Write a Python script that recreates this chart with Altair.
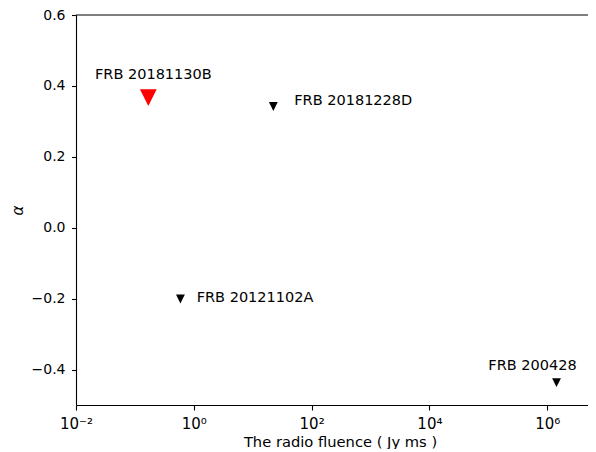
import altair as alt
import pandas as pd

# ---- data ----
names = ["FRB 20181130B", "FRB 20181228D", "FRB 20121102A", "FRB 200428"]
fluence = [0.169, 22.4, 0.593, 1.44e6]          # Jy ms
alpha = [0.367, 0.342, -0.201, -0.437]
highlight = [True, False, False, False]
label_x = [0.021, 50.8, 1.12, 1.0e5]            # annotation anchor (data coords)
label_y = [0.419, 0.347, -0.209, -0.402]

x_ticks = [1e-2, 1e0, 1e2, 1e4, 1e6]
x_tick_labels = ["10⁻²", "10⁰", "10²", "10⁴", "10⁶"]
y_ticks = [-0.4, -0.2, 0.0, 0.2, 0.4, 0.6]
y_tick_labels = ["−0.4", "−0.2", "0.0", "0.2", "0.4", "0.6"]

df = pd.DataFrame({
    "name": names, "fluence": fluence, "alpha": alpha,
    "highlight": highlight, "label_x": label_x, "label_y": label_y,
})

W, H = 512, 390
FONT = "DejaVu Sans"

def x_expr():
    parts = []
    for v, l in zip(x_ticks, x_tick_labels):
        parts.append(f"(datum.value > {v*0.999} && datum.value < {v*1.001}) ? '{l}' : ")
    return "".join(parts) + "''"

def y_expr():
    parts = []
    for v, l in zip(y_ticks, y_tick_labels):
        parts.append(f"abs(datum.value - ({v})) < 1e-6 ? '{l}' : ")
    return "".join(parts) + "''"

xscale = alt.Scale(type="log", domain=[0.01, 4.93e6], nice=False)
yscale = alt.Scale(domain=[-0.5, 0.6], nice=False, zero=False)

x_axis = alt.Axis(
    values=x_ticks, labelExpr=x_expr(), grid=False,
    title="The radio fluence ( Jy ms )",
    domainColor="black", domainWidth=1.1, tickColor="black", tickWidth=1.1, tickSize=5,
    labelFont=FONT, labelFontSize=15, labelColor="black",
    labelBaseline="alphabetic", labelPadding=18, labelFlush=False, labelOverlap=False,
    titleFont=FONT, titleFontSize=14.7, titleFontWeight="normal", titleColor="black",
    titleBaseline="alphabetic", titleY=41, titleX=264, titleAlign="center",
)
y_axis = alt.Axis(
    values=y_ticks, labelExpr=y_expr(), grid=False, title="α",
    domainColor="black", domainWidth=1.1, tickColor="black", tickWidth=1.1, tickSize=4.5,
    labelFont=FONT, labelFontSize=14, labelColor="black",
    labelBaseline="middle", labelPadding=6.5, labelFlush=False, labelOverlap=False,
    titleFont=FONT, titleFontSize=15, titleFontStyle="italic", titleFontWeight="normal",
    titleColor="black", titleAngle=270, titleX=-59, titleY=H / 2,
    titleAlign="center", titleBaseline="middle",
)

tri_down = "M-1,-1L1,-1L0,1Z"

points = alt.Chart(df).mark_point(
    shape=tri_down, filled=True, opacity=1, strokeWidth=0
).encode(
    x=alt.X("fluence:Q", scale=xscale, axis=x_axis),
    y=alt.Y("alpha:Q", scale=yscale, axis=y_axis),
    color=alt.condition("datum.highlight", alt.value("#ff0000"), alt.value("#000000")),
    size=alt.condition("datum.highlight", alt.value(280), alt.value(78)),
)

labels = alt.Chart(df).mark_text(
    align="left", baseline="alphabetic", font=FONT, fontSize=14.5, color="black"
).encode(
    x=alt.X("label_x:Q", scale=xscale),
    y=alt.Y("label_y:Q", scale=yscale),
    text="name:N",
)

top_spine = alt.Chart(pd.DataFrame({"a": [0]})).mark_rule(
    color="black", strokeWidth=1.1
).encode(x=alt.value(0), x2=alt.value(W), y=alt.value(0))

chart = alt.layer(points, labels, top_spine).properties(
    width=W, height=H,
    autosize=alt.AutoSizeParams(type="none"),
    padding={"left": 68, "top": 7, "right": 0, "bottom": 44},
).configure_view(stroke=None)

chart.save("out.html", embed_options={"renderer": "svg", "actions": False})
